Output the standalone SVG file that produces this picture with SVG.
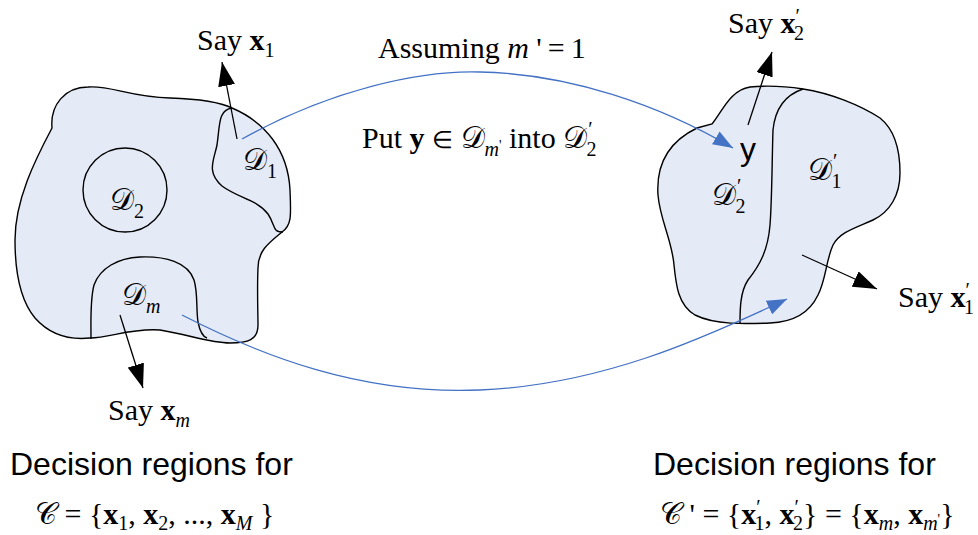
<svg xmlns="http://www.w3.org/2000/svg" width="978" height="535" viewBox="0 0 978 535">
<defs>
<style>
.blob{fill:#E5EBF6;stroke:#000;stroke-width:1.4}
.div{fill:none;stroke:#000;stroke-width:1.4}
.arr{fill:none;stroke:#000;stroke-width:1.3;marker-end:url(#ah)}
.blue{fill:none;stroke:#4472C4;stroke-width:1.3;marker-end:url(#bh)}
.serif{font-family:"Liberation Serif","Times New Roman",serif;font-size:30px;fill:#000}
.sans{font-family:"Liberation Sans",Arial,sans-serif;font-size:32px;fill:#000}
.cal{font-family:"DejaVu Serif","Noto Sans",serif}
.b{font-weight:bold}
.i{font-style:italic}
.sub{font-size:20px}
</style>
<marker id="ah" viewBox="0 0 24 17" refX="24" refY="8.5" markerWidth="24" markerHeight="17" markerUnits="userSpaceOnUse" orient="auto"><path d="M0,0 L24,8.5 L0,17 Z" fill="#000"/></marker>
<marker id="bh" viewBox="0 0 20 15" refX="20" refY="7.5" markerWidth="20" markerHeight="15" markerUnits="userSpaceOnUse" orient="auto"><path d="M0,0 L20,7.5 L0,15 Z" fill="#4472C4"/></marker>
</defs>
<rect width="978" height="535" fill="#fff"/>

<g id="left-regions">
<path class="blob" d="M88,87 C110,85 130,97 170,98 C200,99 220,102 232,108 C265,122 288,150 290,190 C291,215 292,225 282,232 C270,242 258,250 258,268 C257,290 258,315 258,325 C258,340 248,343 230,343 C210,343 190,335 160,330 C130,328 110,338 90,338 C70,340 50,335 35,318 C20,300 15,270 15,240 C15,200 35,160 52,128 C50,105 65,87 88,87 Z"/>
<path class="div" d="M232,108 C218,110 220,125 217,145 C214,160 206,172 222,186 C238,198 258,200 268,214 C276,226 272,232 283,232"/>
<circle cx="125" cy="190" r="42" class="div"/>
<path class="div" d="M91,339 C91,320 90,300 94,285 C100,268 118,258 140,257 C165,256 188,262 194,280 C198,292 196,310 198,322 C200,332 204,337 207,338"/>
<text class="serif" x="243" y="170"><tspan class="cal">𝒟</tspan><tspan class="sub" dy="8">1</tspan></text>
<text class="serif" x="110" y="210"><tspan class="cal">𝒟</tspan><tspan class="sub" dy="8">2</tspan></text>
<text class="serif" x="122" y="305"><tspan class="cal">𝒟</tspan><tspan class="sub i" dy="8">m</tspan></text>
</g>

<g id="right-regions">
<path class="blob" d="M750,87 C770,85 790,87 803,89 C830,93 860,105 880,118 C895,130 900,150 900,173 C900,195 890,212 873,220 C855,228 840,232 833,245 C826,260 826,280 818,295 C810,312 795,322 770,323 C745,324 715,325 695,315 C678,305 676,285 674,265 C672,240 660,220 658,195 C656,165 668,142 697,128 L712,124 C722,112 730,90 750,87 Z"/>
<path class="div" d="M803,89 C785,95 775,110 773,130 C772,160 772,200 770,225 C768,250 760,265 748,280 C740,292 740,310 740,323"/>
<text class="serif" x="712" y="205"><tspan class="cal">𝒟</tspan><tspan class="sub" dx="1" dy="-12">′</tspan><tspan class="sub" dx="-6" dy="20">2</tspan></text>
<text class="serif" x="808" y="180"><tspan class="cal">𝒟</tspan><tspan class="sub" dx="1" dy="-12">′</tspan><tspan class="sub" dx="-6" dy="20">1</tspan></text>
<text class="sans" x="740" y="160">y</text>
</g>

<g id="connectors">
<path class="arr" d="M237,139 L222,62"/>
<path class="arr" d="M120,315 L143,388"/>
<path class="arr" d="M748,125 L772,52"/>
<path class="arr" d="M802,255 L877,289"/>
<path class="blue" d="M242,139 C330,90 420,70 480,72 C570,74 660,105 733,148"/>
<path class="blue" d="M182,315 C260,355 360,395 480,390 C600,385 700,340 787,299"/>
</g>

<g id="labels">
<text class="serif" x="197" y="50">Say <tspan class="b">x</tspan><tspan class="sub" dy="7">1</tspan></text>
<text class="serif" x="108" y="420">Say <tspan class="b">x</tspan><tspan class="sub i" dy="7">m</tspan></text>
<text class="serif" x="728" y="33">Say <tspan class="b">x</tspan><tspan class="sub" dy="-10">′</tspan><tspan class="sub" dx="-6" dy="17">2</tspan></text>
<text class="serif" x="898" y="307">Say <tspan class="b">x</tspan><tspan class="sub" dy="-10">′</tspan><tspan class="sub" dx="-6" dy="17">1</tspan></text>
<text class="serif" x="378" y="58">Assuming <tspan class="i">m</tspan> '<tspan dx="6">=</tspan><tspan dx="6">1</tspan></text>
<text class="serif" x="362" y="148">Put <tspan class="b">y</tspan> <tspan font-size="24">∈</tspan> <tspan class="cal">𝒟</tspan><tspan class="sub i" dy="8">m</tspan><tspan font-size="14" dy="-6">'</tspan><tspan dy="-2"> into </tspan><tspan class="cal">𝒟</tspan><tspan class="sub" dx="1" dy="-12">′</tspan><tspan class="sub" dx="-6" dy="20">2</tspan></text>
<text class="sans" x="10" y="475">Decision regions for</text>
<text class="sans" x="653" y="475">Decision regions for</text>
<text class="serif" x="35" y="524"><tspan class="cal">𝒞</tspan> = {<tspan class="b">x</tspan><tspan class="sub" dy="6">1</tspan><tspan dy="-6">, </tspan><tspan class="b">x</tspan><tspan class="sub" dy="6">2</tspan><tspan dy="-6">, ..., </tspan><tspan class="b">x</tspan><tspan class="sub i" dy="6">M</tspan><tspan dy="-6"> }</tspan></text>
<text class="serif" x="660" y="524"><tspan class="cal">𝒞</tspan> ' = {<tspan class="b">x</tspan><tspan class="sub" dy="-10">′</tspan><tspan class="sub" dx="-6" dy="16">1</tspan><tspan dy="-6">, </tspan><tspan class="b">x</tspan><tspan class="sub" dy="-10">′</tspan><tspan class="sub" dx="-6" dy="16">2</tspan><tspan dy="-6">} = {</tspan><tspan class="b">x</tspan><tspan class="sub i" dy="6">m</tspan><tspan dy="-6">, </tspan><tspan class="b">x</tspan><tspan class="sub i" dy="6">m</tspan><tspan font-size="14" dy="-6">'</tspan><tspan dy="0">}</tspan></text>
</g>
</svg>
